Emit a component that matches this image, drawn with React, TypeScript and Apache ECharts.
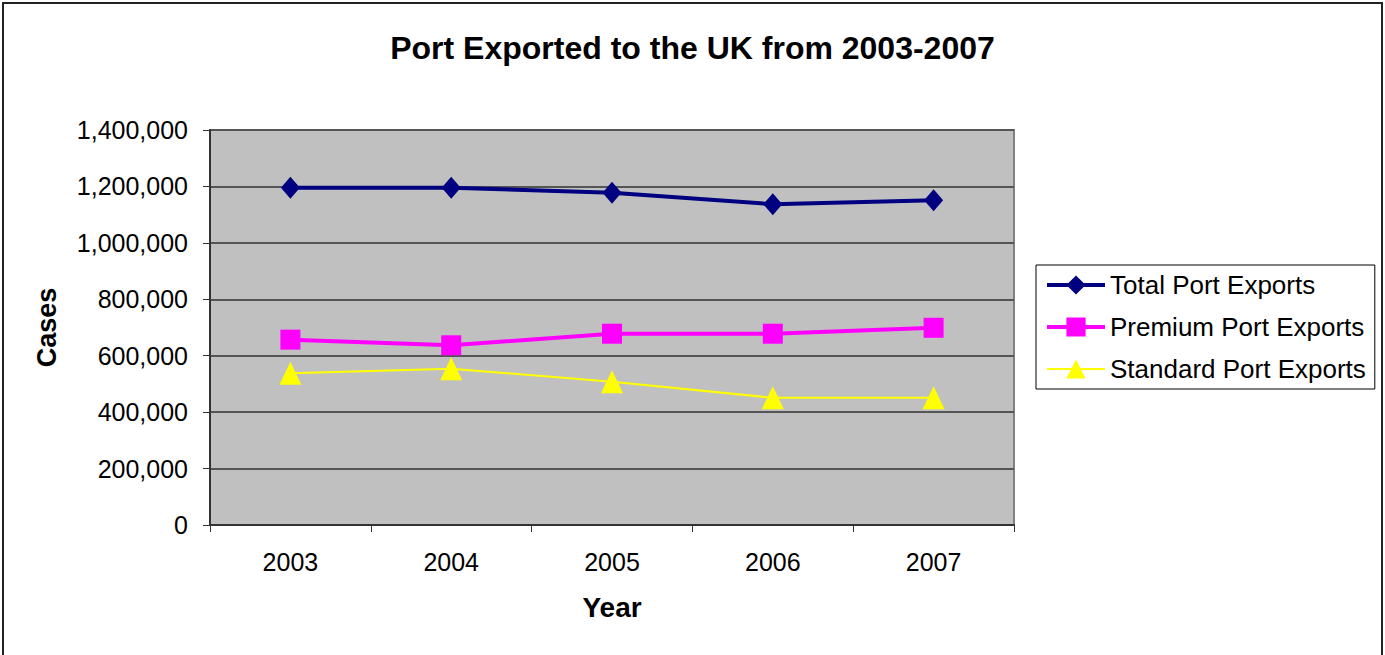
import React, { useEffect, useRef } from "react";
import * as echarts from "echarts";

const years = ["2003", "2004", "2005", "2006", "2007"];
const totalExports = [1195000, 1195000, 1178000, 1137000, 1151000];
const premiumExports = [657000, 637000, 678000, 678000, 699000];
const standardExports = [538000, 554000, 508000, 451000, 451000];
const seriesNames = ["Total Port Exports", "Premium Port Exports", "Standard Port Exports"];

const FONT = "'Liberation Sans', Arial, sans-serif";

export default function App() {
  const ref = useRef<HTMLDivElement>(null);
  useEffect(() => {
    if (!ref.current) return;
    const chart = echarts.init(ref.current, null, { renderer: "svg" });
    chart.setOption({
      animation: false,
      backgroundColor: "#ffffff",
      textStyle: { fontFamily: FONT },
      title: {
        text: "Port Exported to the UK from 2003-2007",
        left: "center",
        top: 27,
        textStyle: { fontFamily: FONT, fontSize: 32, fontWeight: "bold", color: "#000" },
      },
      graphic: [
        {
          type: "rect",
          shape: { x: 3, y: 3, width: 1379, height: 720 },
          style: { fill: "none", stroke: "#222", lineWidth: 2 },
          silent: true,
        },
      ],
      legend: {
        orient: "vertical",
        left: 1036,
        top: 265,
        padding: [6, 9, 6, 9],
        itemGap: 14,
        itemWidth: 58,
        itemHeight: 24,
        borderColor: "#000",
        borderWidth: 1,
        backgroundColor: "#fff",
        data: [
          { name: seriesNames[0], lineStyle: { width: 4 } },
          { name: seriesNames[1], lineStyle: { width: 4 } },
          { name: seriesNames[2], lineStyle: { width: 2 } },
        ],
        textStyle: { fontFamily: FONT, fontSize: 26, color: "#000", lineHeight: 28 },
      },
      grid: {
        left: 210,
        top: 130,
        width: 804,
        height: 395,
        show: true,
        backgroundColor: "#C0C0C0",
        borderColor: "#808080",
        borderWidth: 2,
      },
      xAxis: {
        type: "category",
        data: years,
        boundaryGap: true,
        name: "Year",
        nameLocation: "middle",
        nameGap: 68,
        nameTextStyle: { fontFamily: FONT, fontSize: 28, fontWeight: "bold", color: "#000" },
        axisLine: { show: true, lineStyle: { color: "#333", width: 2 } },
        axisTick: { show: true, alignWithLabel: false, length: 7, lineStyle: { color: "#333", width: 1 } },
        axisLabel: { fontFamily: FONT, fontSize: 25, color: "#000", margin: 24 },
        splitLine: { show: false },
      },
      yAxis: {
        type: "value",
        min: 0,
        max: 1400000,
        interval: 200000,
        name: "Cases",
        nameLocation: "middle",
        nameGap: 150,
        nameRotate: 90,
        nameTextStyle: { fontFamily: FONT, fontSize: 27, fontWeight: "bold", color: "#000" },
        axisLine: { show: true, lineStyle: { color: "#333", width: 2 } },
        axisTick: { show: true, length: 7, lineStyle: { color: "#333", width: 1 } },
        axisLabel: {
          fontFamily: FONT,
          fontSize: 25,
          color: "#000",
          margin: 22,
          formatter: (v: number) => v.toLocaleString("en-US"),
        },
        splitLine: { show: true, lineStyle: { color: "#555", width: 2 } },
      },
      series: [
        {
          name: seriesNames[0],
          type: "line",
          data: totalExports,
          symbol: "diamond",
          symbolSize: [19, 22],
          lineStyle: { color: "#000080", width: 4 },
          itemStyle: { color: "#000080" },
          z: 3,
        },
        {
          name: seriesNames[1],
          type: "line",
          data: premiumExports,
          symbol: "rect",
          symbolSize: 20,
          lineStyle: { color: "#FF00FF", width: 4 },
          itemStyle: { color: "#FF00FF" },
          z: 3,
        },
        {
          name: seriesNames[2],
          type: "line",
          data: standardExports,
          symbol: "triangle",
          symbolSize: [22, 23],
          lineStyle: { color: "#FFFF00", width: 2 },
          itemStyle: { color: "#FFFF00" },
          z: 3,
        },
      ],
    });
    return () => chart.dispose();
  }, []);
  return (
    <div
      ref={ref}
      style={{ position: "fixed", left: 0, top: 0, width: 1385, height: 655 }}
    />
  );
}
